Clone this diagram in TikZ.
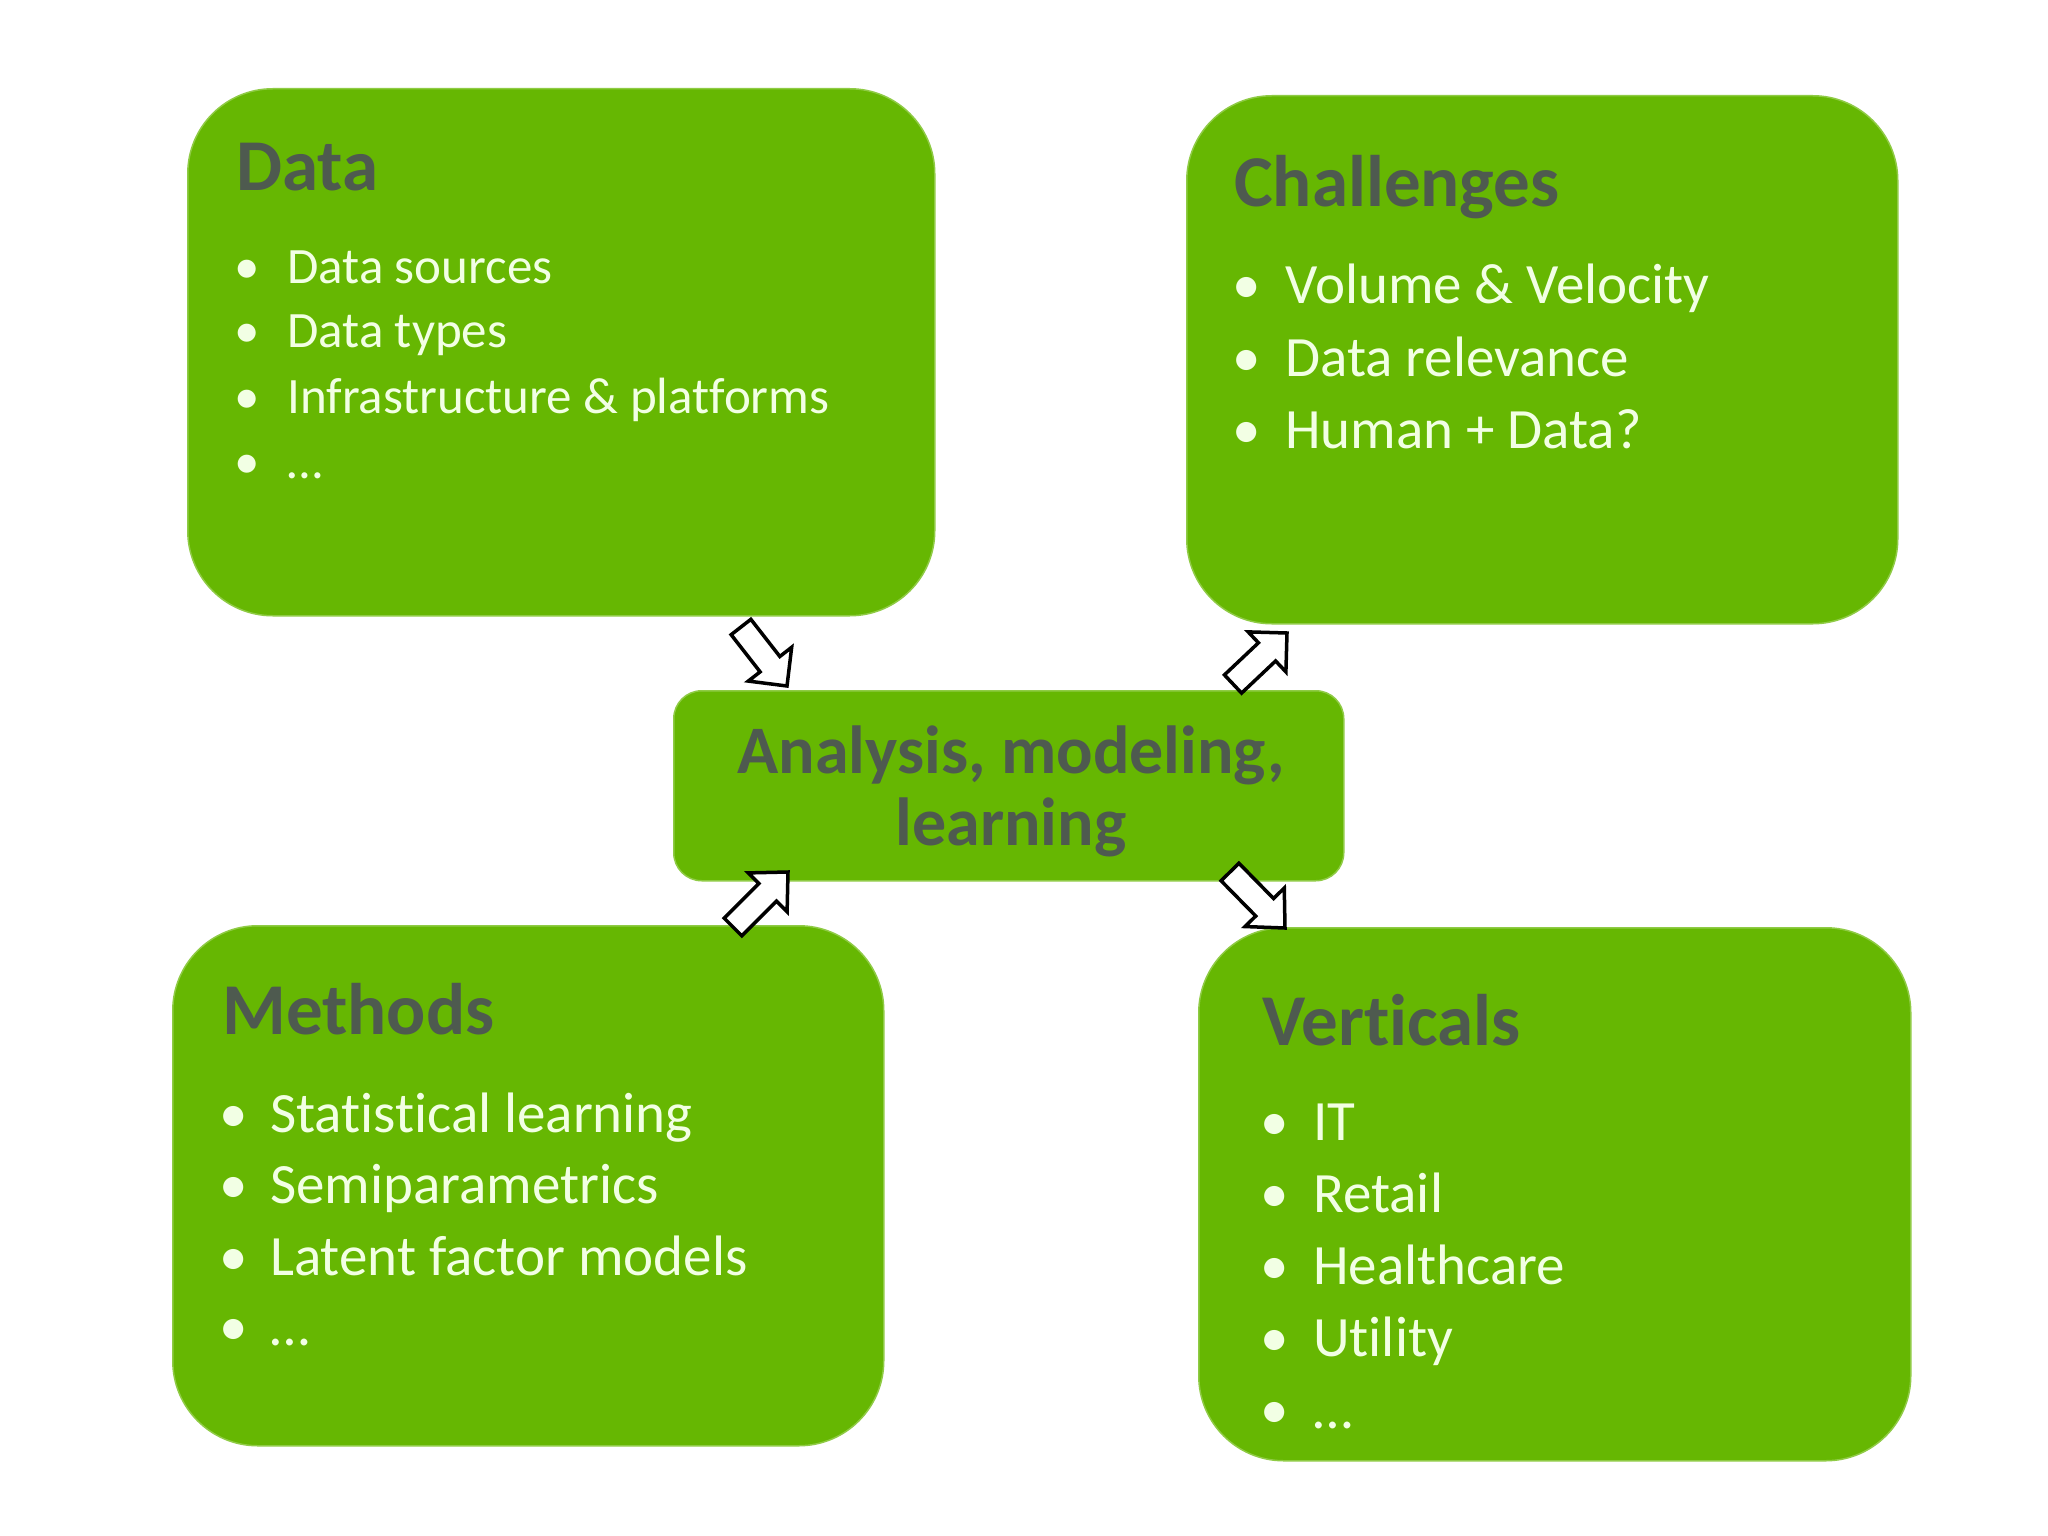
\documentclass[tikz,border=0pt]{standalone}
\usepackage{fontspec}
\setmainfont{Carlito}[Ligatures=NoCommon]
\usetikzlibrary{calc}
\definecolor{boxgreen}{HTML}{66B702}
\definecolor{boxrim}{HTML}{8FCB45}
\definecolor{titlegray}{HTML}{4E5A4F}
\definecolor{itemwhite}{HTML}{F2FFE4}
\newcommand\blockarrow[3]{%
  \coordinate (#1m) at ($(#2)!0.63!(#3)$);
  \draw[blockarr] ($(#2)!12.5pt!90:(#3)$) -- ($(#1m)!12.5pt!90:(#3)$)
     -- ($(#1m)!27.5pt!90:(#3)$) -- (#3) -- ($(#1m)!27.5pt!-90:(#3)$)
     -- ($(#1m)!12.5pt!-90:(#3)$) -- ($(#2)!12.5pt!-90:(#3)$) -- cycle;}
\begin{document}
\begin{tikzpicture}[x=1pt,y=-1pt,
  gbox/.style={fill=boxgreen, draw=boxrim, line width=1.5pt, rounded corners=85pt, anchor=north west, inner sep=0pt},
  cbox/.style={fill=boxgreen, draw=boxrim, line width=1.5pt, rounded corners=28pt, anchor=north west, inner sep=0pt},
  ttl/.style={anchor=base west, inner sep=0pt, text=titlegray, font=\bfseries\fontsize{73}{80}\selectfont},
  itm/.style={anchor=base west, inner sep=0pt, text=itemwhite, font=\fontsize{57}{64}\selectfont},
  itms/.style={itm, font=\fontsize{51}{58}\selectfont},
  bul/.style={anchor=base, inner sep=0pt, text=itemwhite, font=\fontsize{57}{64}\selectfont},
  buls/.style={bul, font=\fontsize{51}{58}\selectfont},
  blockarr/.style={draw=black, fill=white, line width=3.5pt, line join=miter},
  ctext/.style={align=center, inner sep=0pt, text=titlegray, font=\bfseries\fontsize{68}{72}\selectfont}
]
\useasboundingbox (0,0) rectangle (2048,1536);
\fill[white] (0,0) rectangle (2048,1536);

% boxes
\node[gbox, minimum width=747pt, minimum height=527pt] (data) at (187,88) {};
\node[gbox, minimum width=711pt, minimum height=528pt] (chal) at (1186,95) {};
\node[gbox, minimum width=711pt, minimum height=520pt] (meth) at (172,925) {};
\node[gbox, minimum width=712pt, minimum height=533pt] (vert) at (1198,927) {};
\node[cbox, minimum width=670pt, minimum height=190pt] (core) at (673,690) {};

% Data
\node[ttl] (dataT) at (236,190) {Data};
\node[buls] (db1) at (247,283) {•};
\node[itms] (di1) at (287,283) {Data sources};
\node[buls] (db2) at (247,347) {•};
\node[itms] (di2) at (287,347) {Data types};
\node[buls] (db3) at (247,413) {•};
\node[itms] (di3) at (287,413) {Infrastructure \& platforms};
\node[buls] (db4) at (247,478) {•};
\node[itms] (di4) at (287,478) {…};

% Challenges
\node[ttl] (chalT) at (1234,206) {Challenges};
\node[bul] (cb1) at (1247,303) {•};
\node[itm] (ci1) at (1285,303) {Volume \& Velocity};
\node[bul] (cb2) at (1247,376) {•};
\node[itm] (ci2) at (1285,376) {Data relevance};
\node[bul] (cb3) at (1247,448) {•};
\node[itm] (ci3) at (1285,448) {Human + Data?};

% Methods
\node[ttl] (methT) at (222,1034) {Methods};
\node[bul] (mb1) at (234,1132) {•};
\node[itm] (mi1) at (270,1132) {Statistical learning};
\node[bul] (mb2) at (234,1203) {•};
\node[itm] (mi2) at (270,1203) {Semiparametrics};
\node[bul] (mb3) at (234,1275) {•};
\node[itm] (mi3) at (270,1275) {Latent factor models};
\node[bul] (mb4) at (234,1345) {•};
\node[itm] (mi4) at (270,1345) {…};

% Verticals
\node[ttl] (vertT) at (1262,1045) {Verticals};
\node[bul] (vb1) at (1275,1140) {•};
\node[itm] (vi1) at (1313,1140) {IT};
\node[bul] (vb2) at (1275,1212) {•};
\node[itm] (vi2) at (1313,1212) {Retail};
\node[bul] (vb3) at (1275,1284) {•};
\node[itm] (vi3) at (1313,1284) {Healthcare};
\node[bul] (vb4) at (1275,1356) {•};
\node[itm] (vi4) at (1313,1356) {Utility};
\node[bul] (vb5) at (1275,1428) {•};
\node[itm] (vi5) at (1313,1428) {…};

% center text (base = last line's baseline)
\node[ctext, anchor=base] (coreT) at (1011,845) {Analysis, modeling,\\learning};

% arrows
\coordinate (a1s) at (741,627); \coordinate (a1e) at (787,686);
\coordinate (a2s) at (1233,684); \coordinate (a2e) at (1287,633);
\coordinate (a3s) at (733,927); \coordinate (a3e) at (788,872);
\coordinate (a4s) at (1230,872); \coordinate (a4e) at (1285,928);
\blockarrow{a1}{a1s}{a1e}
\blockarrow{a2}{a2s}{a2e}
\blockarrow{a3}{a3s}{a3e}
\blockarrow{a4}{a4s}{a4e}
\end{tikzpicture}
\end{document}
